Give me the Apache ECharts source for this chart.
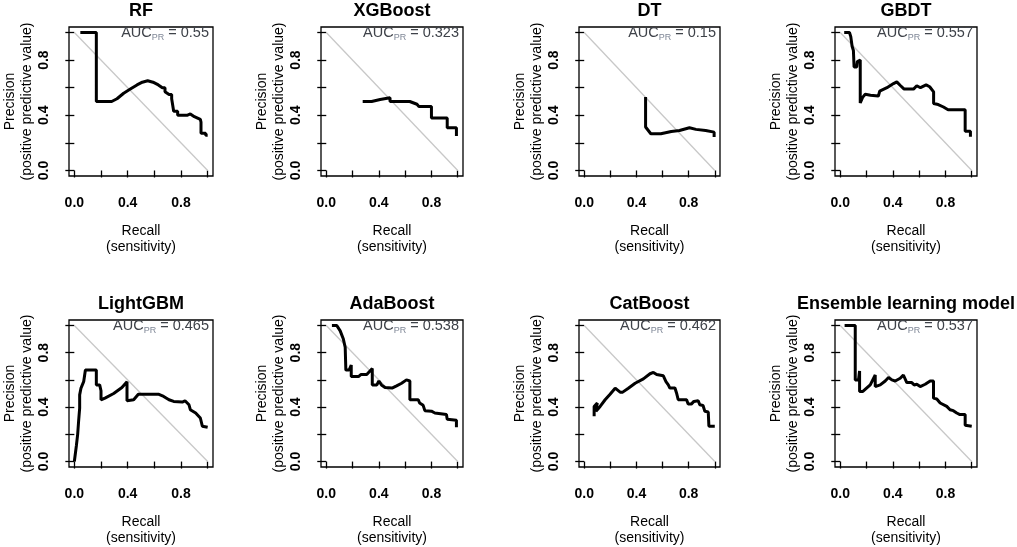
<!DOCTYPE html>
<html>
<head>
<meta charset="utf-8">
<title>Precision-recall curves</title>
<script src="https://cdn.jsdelivr.net/npm/echarts@6.0.0/dist/echarts.min.js"></script>
<style>
  html, body { margin: 0; padding: 0; background: #fff; }
  #chart { width: 1017px; height: 547px; }
</style>
</head>
<body>
<div id="chart"></div>
<script>
// model names and AUC-PR values printed in each panel
var models = ['RF', 'XGBoost', 'DT', 'GBDT', 'LightGBM', 'AdaBoost', 'CatBoost', 'Ensemble learning model'];
var aucValues = ['0.55', '0.323', '0.15', '0.557', '0.465', '0.538', '0.462', '0.537'];

// axis ticks (labels only every other tick, like R does)
var tickValues = [0, 0.2, 0.4, 0.6, 0.8, 1.0];
var labelValues = [0, 0.4, 0.8];

// chance line
var diagonal = [[0, 1], [1, 0]];

// [recall, precision]
var rfCurve = [[0.045, 1.0], [0.165, 1.0], [0.165, 0.5], [0.28, 0.5], [0.32, 0.52], [0.37, 0.56], [0.42, 0.59],
  [0.47, 0.62], [0.51, 0.64], [0.55, 0.65], [0.59, 0.64], [0.63, 0.62], [0.66, 0.6], [0.68, 0.6], [0.68, 0.57],
  [0.71, 0.55], [0.73, 0.55], [0.73, 0.52], [0.745, 0.52], [0.745, 0.43], [0.775, 0.43], [0.775, 0.4],
  [0.845, 0.4], [0.87, 0.41], [0.9, 0.39], [0.945, 0.37], [0.95, 0.35], [0.95, 0.27], [0.985, 0.27],
  [0.985, 0.255], [1.0, 0.255]];
var xgbCurve = [[0.277, 0.5], [0.345, 0.5], [0.35, 0.51], [0.41, 0.515], [0.42, 0.525], [0.485, 0.527], [0.485, 0.5],
  [0.635, 0.5], [0.65, 0.487], [0.69, 0.48], [0.705, 0.463], [0.80, 0.463], [0.80, 0.38], [0.92, 0.38],
  [0.92, 0.31], [0.99, 0.31], [0.99, 0.25]];
var dtCurve = [[0.47, 0.533], [0.47, 0.315], [0.51, 0.266], [0.587, 0.266], [0.595, 0.278], [0.667, 0.283],
  [0.73, 0.29], [0.806, 0.31], [0.856, 0.298], [0.93, 0.29], [0.995, 0.278], [0.995, 0.242]];
var gbdtCurve = [[0.03, 1.0], [0.07, 1.0], [0.08, 0.97], [0.09, 0.9], [0.1, 0.87], [0.105, 0.75], [0.125, 0.75],
  [0.13, 0.79], [0.152, 0.8], [0.152, 0.49], [0.17, 0.53], [0.19, 0.553], [0.23, 0.546], [0.29, 0.54],
  [0.3, 0.575], [0.355, 0.6], [0.405, 0.63], [0.43, 0.642], [0.455, 0.618], [0.47, 0.625], [0.486, 0.59],
  [0.557, 0.59], [0.582, 0.614], [0.61, 0.6], [0.653, 0.62], [0.68, 0.607], [0.71, 0.57], [0.71, 0.486],
  [0.745, 0.478], [0.785, 0.46], [0.82, 0.44], [0.95, 0.44], [0.95, 0.285], [0.99, 0.285], [0.99, 0.244]];
var lgbmCurve = [[0.0, 0.0], [0.015, 0.114], [0.025, 0.2], [0.032, 0.296], [0.04, 0.393], [0.04, 0.49], [0.05, 0.54],
  [0.07, 0.587], [0.083, 0.672], [0.165, 0.672], [0.165, 0.563], [0.19, 0.563], [0.2, 0.52], [0.2, 0.454],
  [0.23, 0.466], [0.295, 0.5], [0.357, 0.544], [0.395, 0.587], [0.395, 0.447], [0.445, 0.454], [0.48, 0.495],
  [0.63, 0.495], [0.67, 0.478], [0.71, 0.454], [0.745, 0.442], [0.81, 0.437], [0.83, 0.447], [0.86, 0.417],
  [0.87, 0.381], [0.91, 0.357], [0.945, 0.32], [0.96, 0.26], [1.0, 0.252]];
var adaCurve = [[0.043, 1.0], [0.08, 1.0], [0.106, 0.96], [0.13, 0.9], [0.144, 0.84], [0.149, 0.672], [0.174, 0.672],
  [0.19, 0.709], [0.19, 0.624], [0.245, 0.624], [0.265, 0.64], [0.308, 0.64], [0.35, 0.684], [0.35, 0.563],
  [0.385, 0.563], [0.4, 0.592], [0.42, 0.563], [0.447, 0.544], [0.5, 0.54], [0.535, 0.556], [0.573, 0.575],
  [0.61, 0.6], [0.636, 0.592], [0.636, 0.454], [0.70, 0.454], [0.71, 0.43], [0.737, 0.413], [0.75, 0.374],
  [0.80, 0.37], [0.826, 0.357], [0.84, 0.345], [0.914, 0.345], [0.92, 0.31], [0.99, 0.303], [0.99, 0.252]];
var catCurve = [[0.076, 0.333], [0.076, 0.405], [0.1, 0.43], [0.09, 0.37], [0.122, 0.405], [0.16, 0.454],
  [0.198, 0.495], [0.237, 0.539], [0.25, 0.544], [0.275, 0.51], [0.295, 0.51], [0.338, 0.539], [0.39, 0.575],
  [0.453, 0.607], [0.504, 0.645], [0.53, 0.655], [0.555, 0.64], [0.606, 0.63], [0.626, 0.587], [0.644, 0.563],
  [0.656, 0.54], [0.695, 0.54], [0.707, 0.504], [0.72, 0.454], [0.784, 0.454], [0.796, 0.422], [0.82, 0.422],
  [0.84, 0.442], [0.873, 0.447], [0.885, 0.417], [0.91, 0.412], [0.924, 0.369], [0.95, 0.364], [0.955, 0.26],
  [1.0, 0.26]];
var ensCurve = [[0.033, 1.0], [0.114, 1.0], [0.114, 0.6], [0.139, 0.6], [0.147, 0.665], [0.147, 0.515],
  [0.172, 0.515], [0.228, 0.563], [0.266, 0.636], [0.266, 0.551], [0.304, 0.563], [0.342, 0.592], [0.367, 0.617],
  [0.392, 0.6], [0.418, 0.592], [0.456, 0.612], [0.48, 0.636], [0.506, 0.58], [0.544, 0.58], [0.562, 0.563],
  [0.582, 0.568], [0.608, 0.551], [0.646, 0.568], [0.684, 0.592], [0.709, 0.592], [0.709, 0.466], [0.734, 0.46],
  [0.76, 0.43], [0.81, 0.405], [0.835, 0.381], [0.86, 0.374], [0.886, 0.357], [0.91, 0.345], [0.95, 0.345],
  [0.95, 0.267], [1.0, 0.26]];

var curves = [rfCurve, xgbCurve, dtCurve, gbdtCurve, lgbmCurve, adaCurve, catCurve, ensCurve];

// panel layout (pixels)
var colLeft = [69, 321, 579, 835];
var colWidth = [144, 142, 141, 142];
var rowTop = [27, 320];
var rowHeight = [149, 148];

var fontFam = '"Liberation Sans", Arial, sans-serif';

var chart = echarts.init(document.getElementById('chart'));

var grids = [], xAxes = [], yAxes = [], series = [], graphics = [];

models.forEach(function (name, i) {
    var c = i % 4, r = Math.floor(i / 4);
    var left = colLeft[c], top = rowTop[r], w = colWidth[c], h = rowHeight[r];
    grids.push({
        left: left, top: top, width: w, height: h,
        show: true, borderColor: '#000', borderWidth: 1.3, backgroundColor: 'transparent'
    });
    xAxes.push({
        gridIndex: i, type: 'value', min: -0.04, max: 1.04, offset: 2,
        axisLine: { show: false },
        axisTick: { show: true, length: 7, customValues: tickValues, lineStyle: { color: '#000', width: 1.3 } },
        axisLabel: {
            customValues: labelValues, margin: 18, fontSize: 14, color: '#000',
            fontFamily: fontFam, fontWeight: 'bold',
            formatter: function (v) { return v.toFixed(1); }
        },
        splitLine: { show: false },
        name: 'Recall\n(sensitivity)', nameLocation: 'middle', nameGap: 45,
        nameTextStyle: { fontSize: 14, lineHeight: 16, color: '#000', fontFamily: fontFam }
    });
    yAxes.push({
        gridIndex: i, type: 'value', min: -0.04, max: 1.04,
        axisLine: { show: false },
        axisTick: { show: true, length: 9, customValues: tickValues, lineStyle: { color: '#000', width: 1.3 } },
        axisLabel: {
            customValues: labelValues, rotate: 90, margin: 18, fontSize: 14, color: '#000',
            fontFamily: fontFam, fontWeight: 'bold',
            formatter: function (v) { return v.toFixed(1); }
        },
        splitLine: { show: false },
        name: 'Precision\n(positive predictive value)', nameLocation: 'middle', nameGap: 33, nameRotate: 90,
        nameTextStyle: { fontSize: 14, lineHeight: 17, color: '#000', fontFamily: fontFam }
    });
    series.push({
        type: 'line', xAxisIndex: i, yAxisIndex: i, data: diagonal,
        showSymbol: false, silent: true, lineStyle: { color: '#c8c8c8', width: 1.3 }, z: 1
    });
    series.push({
        type: 'line', xAxisIndex: i, yAxisIndex: i, data: curves[i],
        showSymbol: false, silent: true, lineStyle: { color: '#000', width: 3 }, z: 2
    });
    // panel title
    graphics.push({
        type: 'text', x: left + w / 2, y: top - 16,
        style: {
            text: name, align: 'center', verticalAlign: 'middle',
            font: 'bold 18px ' + fontFam, fill: '#000'
        }
    });
    // AUC label with subscript
    graphics.push({
        type: 'text', x: left + w - 4, y: top + 6, z: 10,
        style: {
            text: '{a|AUC}{b|PR}{a| = ' + aucValues[i] + '}',
            align: 'right', verticalAlign: 'middle',
            rich: {
                a: { fontSize: 14.5, lineHeight: 18, fill: '#3e4249', fontFamily: fontFam },
                b: { fontSize: 9, lineHeight: 10, fill: '#7f8797', fontFamily: fontFam, verticalAlign: 'bottom' }
            }
        }
    });
});

chart.setOption({
    animation: false,
    grid: grids,
    xAxis: xAxes,
    yAxis: yAxes,
    series: series,
    graphic: graphics
});
</script>
</body>
</html>
